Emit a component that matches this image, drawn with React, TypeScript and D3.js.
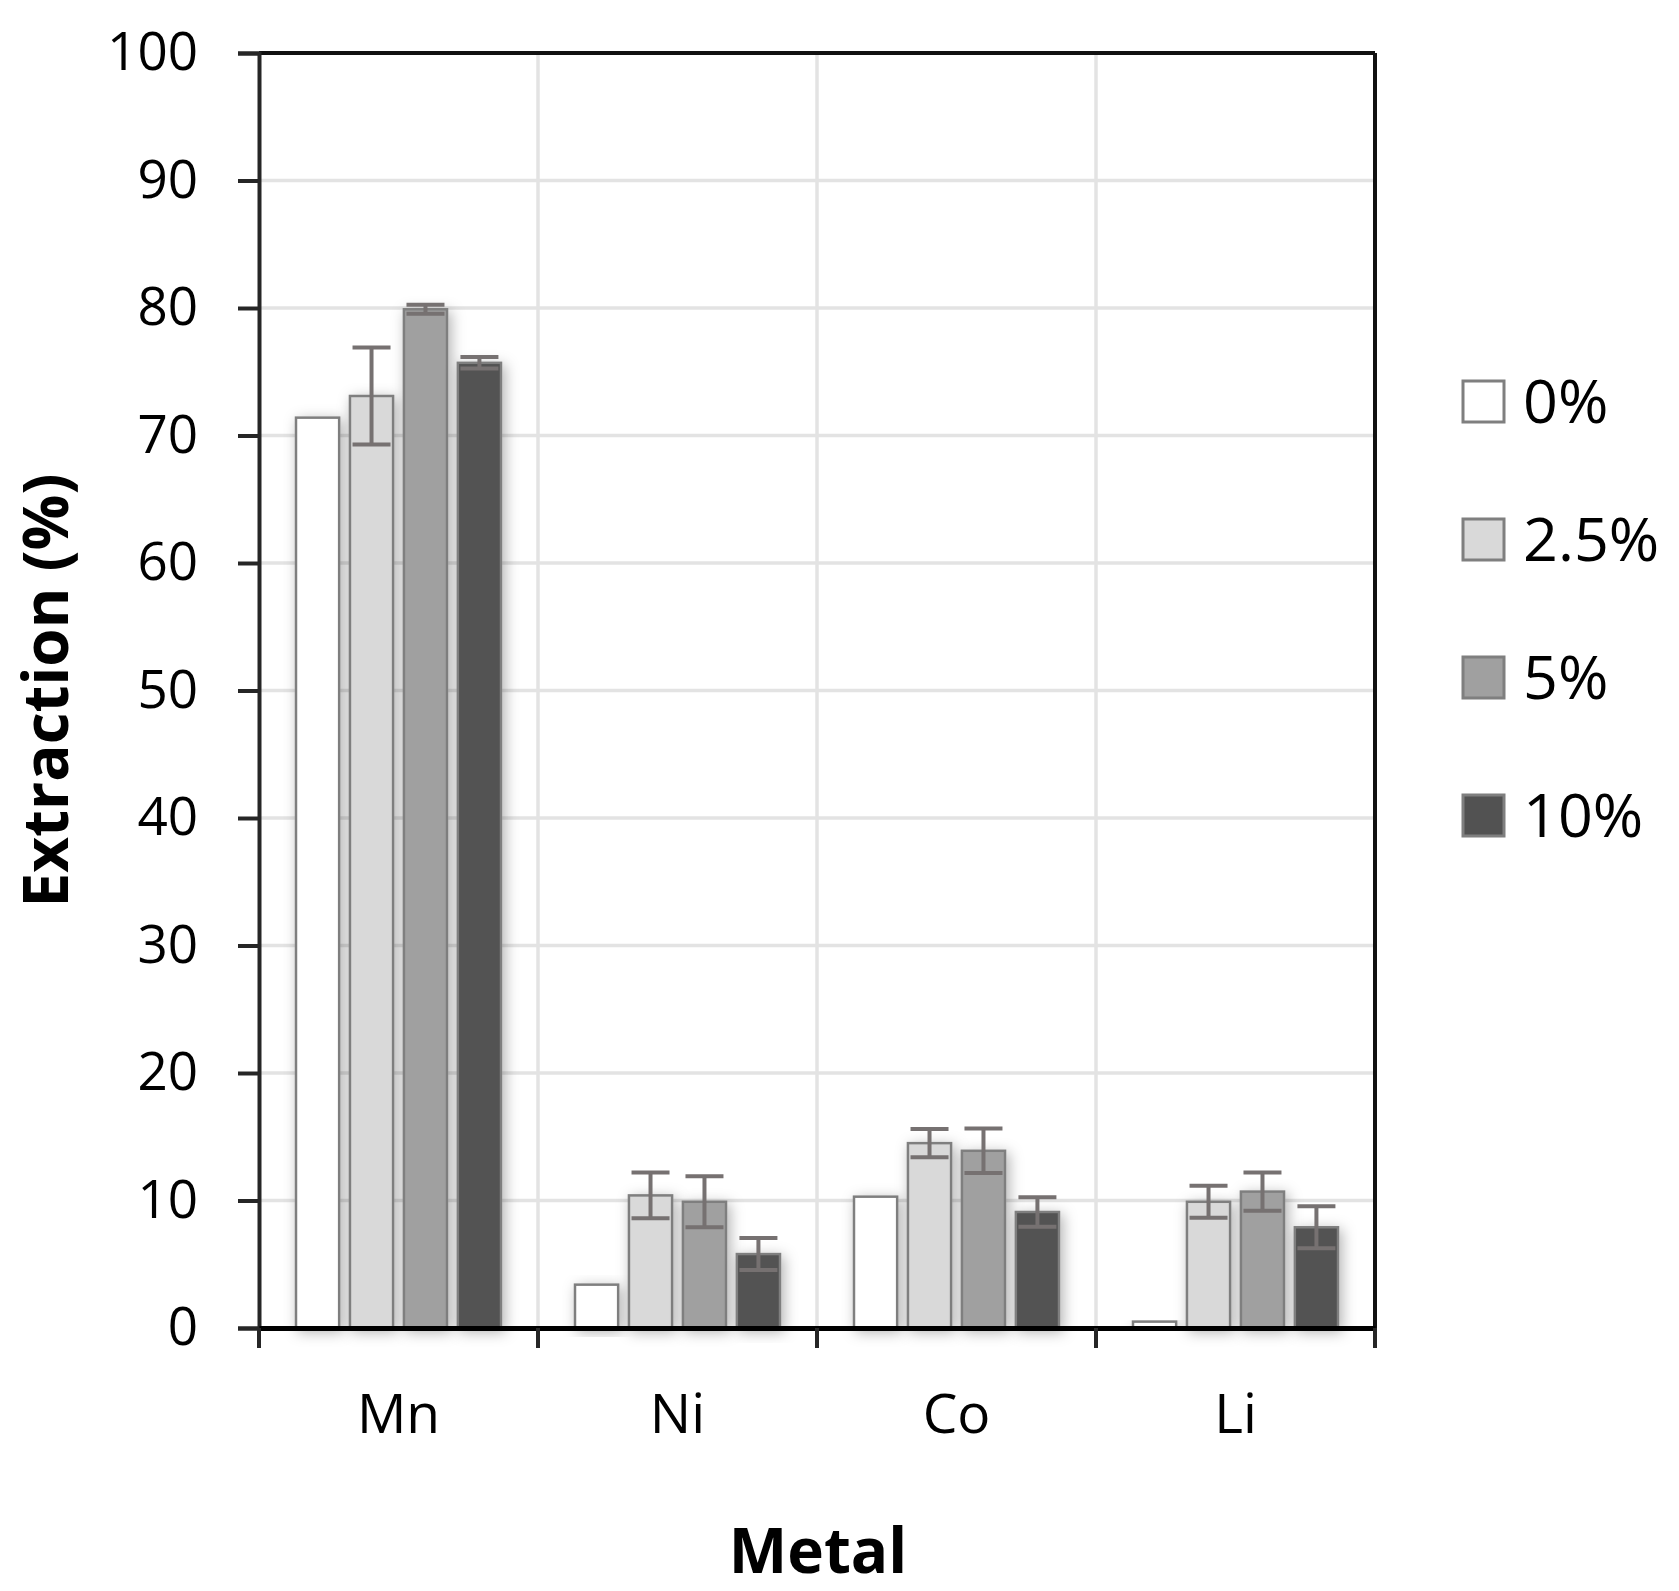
import * as d3 from "d3";
import React, {useEffect, useRef} from "react";

const categories = ['Mn', 'Ni', 'Co', 'Li'];
const seriesLabels = ['0%', '2.5%', '5%', '10%'];
const seriesFills = ['#ffffff', '#d9d9d9', '#a0a0a0', '#525252'];

const values0 = [71.4, 3.4, 10.3, 0.5];
const values25 = [73.1, 10.4, 14.5, 9.9];
const values5 = [79.9, 9.9, 13.9, 10.7];
const values10 = [75.7, 5.8, 9.1, 7.9];

// error bar half-widths (0% series has none)
const err25 = [3.8, 1.8, 1.1, 1.25];
const err5 = [0.35, 2.0, 1.75, 1.5];
const err10 = [0.45, 1.25, 1.15, 1.65];

const yTicks = [0, 10, 20, 30, 40, 50, 60, 70, 80, 90, 100];

interface BarDatum {
  category: string
  series: string
  value: number
  err: number | null
  fill: string
}

const App: React.FC = () => {
  const ref = useRef<SVGSVGElement | null>(null);

  useEffect(() => {
    document.body.style.margin = '0';
    const svg = d3.select(ref.current);
    svg.selectAll('*').remove();

    const width = 1679;
    const height = 1591;
    const font = "'Open Sans', 'Noto Sans', sans-serif";

    svg.attr('width', width).attr('height', height);

    const plotLeft = 259, plotRight = 1375, plotTop = 53, plotBottom = 1328;

    const x0 = d3.scaleBand<string>().domain(categories).range([plotLeft, plotRight]).padding(0);
    const bw = x0.bandwidth();
    const x1 = d3.scaleBand<string>().domain(seriesLabels)
      .range([bw * 0.1326, bw * (1 - 0.1326)])
      .paddingInner(0.2).paddingOuter(0);
    const y = d3.scaleLinear().domain([0, 100]).range([plotBottom, plotTop]);

    const allValues = [values0, values25, values5, values10];
    const allErrs = [null, err25, err5, err10];
    const data: BarDatum[] = [];
    categories.forEach((c, ci) => {
      seriesLabels.forEach((s, si) => {
        data.push({
          category: c,
          series: s,
          value: allValues[si][ci],
          err: allErrs[si] ? (allErrs[si] as number[])[ci] : null,
          fill: seriesFills[si],
        });
      });
    });

    const defs = svg.append('defs');
    const filter = defs.append('filter').attr('id', 'shadow')
      .attr('x', '-50%').attr('y', '-20%').attr('width', '200%').attr('height', '140%');
    filter.append('feDropShadow')
      .attr('dx', 3).attr('dy', 3).attr('stdDeviation', 7)
      .attr('flood-color', '#000').attr('flood-opacity', 0.3);

    // gridlines
    svg.append('g')
      .selectAll('line')
      .data(yTicks.filter(t => t > 0 && t < 100))
      .enter()
      .append('line')
      .attr('x1', plotLeft).attr('x2', plotRight)
      .attr('y1', d => y(d)).attr('y2', d => y(d))
      .attr('stroke', '#e3e3e3').attr('stroke-width', 3.5);

    svg.append('g')
      .selectAll('line')
      .data(categories.slice(1))
      .enter()
      .append('line')
      .attr('x1', d => x0(d) as number).attr('x2', d => x0(d) as number)
      .attr('y1', plotTop).attr('y2', plotBottom)
      .attr('stroke', '#e3e3e3').attr('stroke-width', 3.5);

    // bars
    const bars = svg.append('g')
      .selectAll('.bar')
      .data(data)
      .enter()
      .append('g')
      .attr('class', 'bar')
      .attr('transform', d => `translate(${x0(d.category)}, 0)`);

    bars.append('rect')
      .attr('x', d => x1(d.series) as number)
      .attr('y', d => y(d.value))
      .attr('width', x1.bandwidth())
      .attr('height', d => y(0) - y(d.value))
      .attr('fill', d => d.fill)
      .attr('stroke', '#7f7f7f')
      .attr('stroke-width', 2.5)
      .attr('filter', 'url(#shadow)');

    // error bars
    const capHalf = 19;
    const errBars = bars.filter(d => d.err !== null);
    errBars.append('line')
      .attr('x1', d => (x1(d.series) as number) + x1.bandwidth() / 2)
      .attr('x2', d => (x1(d.series) as number) + x1.bandwidth() / 2)
      .attr('y1', d => y(d.value - (d.err as number)))
      .attr('y2', d => y(d.value + (d.err as number)))
      .attr('stroke', '#767171').attr('stroke-width', 4);
    [-1, 1].forEach(sign => {
      errBars.append('line')
        .attr('x1', d => (x1(d.series) as number) + x1.bandwidth() / 2 - capHalf)
        .attr('x2', d => (x1(d.series) as number) + x1.bandwidth() / 2 + capHalf)
        .attr('y1', d => y(d.value + sign * (d.err as number)))
        .attr('y2', d => y(d.value + sign * (d.err as number)))
        .attr('stroke', '#767171').attr('stroke-width', 4);
    });

    // frame: top and right borders
    svg.append('line')
      .attr('x1', plotLeft).attr('x2', plotRight).attr('y1', plotTop).attr('y2', plotTop)
      .attr('stroke', '#111').attr('stroke-width', 4);
    svg.append('line')
      .attr('x1', plotRight).attr('x2', plotRight).attr('y1', plotTop).attr('y2', plotBottom)
      .attr('stroke', '#111').attr('stroke-width', 4);

    // y axis
    const yAxis = d3.axisLeft(y).tickValues(yTicks).tickSize(21).tickPadding(40);
    const yG = svg.append('g')
      .attr('transform', `translate(${plotLeft}, 0)`)
      .call(yAxis);
    yG.select('.domain').attr('stroke', '#262626').attr('stroke-width', 4);
    yG.selectAll('.tick line').attr('stroke', '#262626').attr('stroke-width', 4);
    yG.selectAll('.tick text')
      .attr('fill', '#000')
      .style('font-family', font)
      .style('font-size', '53px');

    // x axis
    const xAxis = d3.axisBottom(x0).tickSize(0).tickPadding(66);
    const xG = svg.append('g')
      .attr('transform', `translate(0, ${plotBottom})`)
      .call(xAxis);
    xG.select('.domain').attr('stroke', '#000').attr('stroke-width', 5);
    xG.selectAll('.tick text')
      .attr('fill', '#000')
      .style('font-family', font)
      .style('font-size', '55px');
    // tick marks at category boundaries
    xG.append('g')
      .selectAll('line')
      .data([...categories.map(c => x0(c) as number), plotRight])
      .enter()
      .append('line')
      .attr('x1', d => d).attr('x2', d => d)
      .attr('y1', 0).attr('y2', 20)
      .attr('stroke', '#262626').attr('stroke-width', 4);

    // axis titles
    svg.append('text')
      .attr('x', 818).attr('y', 1573)
      .attr('text-anchor', 'middle')
      .style('font-family', font)
      .style('font-weight', 'bold')
      .style('font-size', '62px')
      .text('Metal');

    svg.append('text')
      .attr('transform', `translate(68, ${(plotTop + plotBottom) / 2}) rotate(-90)`)
      .attr('text-anchor', 'middle')
      .style('font-family', font)
      .style('font-weight', 'bold')
      .style('font-size', '62px')
      .text('Extraction (%)');

    // legend
    const legend = svg.append('g')
      .selectAll('.legend')
      .data(seriesLabels)
      .enter()
      .append('g')
      .attr('class', 'legend')
      .attr('transform', (_, i) => `translate(1463, ${381 + i * 138})`);

    legend.append('rect')
      .attr('width', 41).attr('height', 41)
      .attr('fill', (_, i) => seriesFills[i])
      .attr('stroke', '#7f7f7f').attr('stroke-width', 3);

    legend.append('text')
      .attr('x', 60).attr('y', 20.5)
      .attr('dy', '0.36em')
      .style('font-family', font)
      .style('font-size', '61px')
      .text(d => d);

    return () => {
      svg.selectAll('*').remove();
    };
  }, []);

  return <svg ref={ref} style={{display: 'block'}} />;
};

export default App;
